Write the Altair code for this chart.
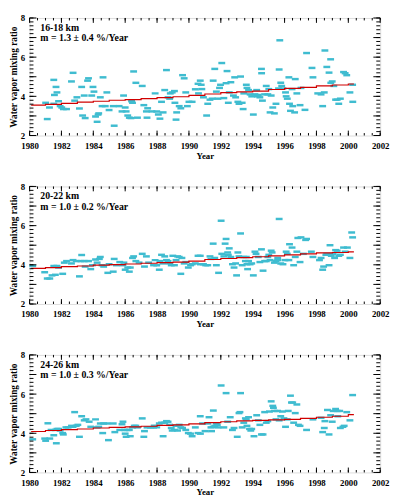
import altair as alt
import pandas as pd

# ---------------- data ----------------
p1_year = [1981.01, 1981.11, 1981.25, 1981.52, 1981.52, 1981.56, 1981.66, 1981.72, 1981.82, 1981.92,
           1982.02, 1982.12, 1982.32, 1982.63, 1982.73, 1982.83, 1982.97, 1983.13, 1983.27, 1983.33,
           1983.43, 1983.49, 1983.64, 1983.70, 1983.90, 1983.98, 1984.04, 1984.14, 1984.24, 1984.30,
           1984.34, 1984.44, 1984.55, 1984.61, 1984.75, 1984.85, 1984.99, 1985.25, 1985.31, 1985.62,
           1985.80, 1985.90, 1986.00, 1986.06, 1986.16, 1986.26, 1986.36, 1986.40, 1986.46, 1986.53,
           1986.67, 1986.77, 1987.07, 1987.17, 1987.33, 1987.37, 1987.41, 1987.68, 1987.88, 1987.98,
           1988.08, 1988.18, 1988.28, 1988.38, 1988.48, 1988.59, 1988.69, 1988.79, 1988.83, 1988.95,
           1989.09, 1989.12, 1989.19, 1989.23, 1989.39, 1989.49, 1989.60, 1989.70, 1989.80, 1989.90,
           1990.00, 1990.20, 1990.40, 1990.57, 1990.60,
           1990.71, 1990.77, 1990.81, 1990.91, 1991.11, 1991.18, 1991.32, 1991.46, 1991.52, 1991.62,
           1991.72, 1991.82, 1991.92, 1991.98, 1992.06, 1992.19, 1992.33, 1992.39, 1992.47, 1992.53,
           1992.63, 1992.79, 1992.87, 1992.93, 1993.07, 1993.14, 1993.24, 1993.34, 1993.40, 1993.44,
           1993.60, 1993.64, 1993.74, 1993.84, 1993.94, 1994.04, 1994.14, 1994.25, 1994.29, 1994.35,
           1994.45, 1994.55, 1994.56, 1994.61, 1994.75, 1994.85, 1994.95, 1995.01, 1995.09, 1995.16,
           1995.26, 1995.36, 1995.46, 1995.62, 1995.66, 1995.70, 1995.76, 1995.82, 1995.90, 1996.06,
           1996.10, 1996.17, 1996.27, 1996.31, 1996.37, 1996.47, 1996.51, 1996.63, 1996.67, 1996.77,
           1996.97, 1997.03, 1997.28, 1997.38, 1997.72, 1997.78, 1998.08, 1998.29, 1998.39, 1998.49,
           1998.53, 1998.65, 1998.79, 1998.89, 1998.90, 1998.99, 1999.09, 1999.20, 1999.30, 1999.40,
           1999.50, 1999.70, 1999.80, 1999.90, 2000.10, 2000.27, 2000.28]
p1_val = [3.67, 2.84, 3.43, 4.84, 3.62, 4.07, 4.48, 4.20, 3.75, 3.50,
          3.43, 3.35, 3.35, 4.76, 5.20, 3.78, 3.95, 3.38, 4.48, 3.02,
          4.04, 2.89, 4.80, 4.92, 4.04, 4.48, 4.24, 2.97, 2.70, 3.07,
          3.13, 3.95, 3.50, 4.97, 3.50, 4.20, 3.30, 3.50, 2.50, 3.50,
          3.23, 4.04, 3.43, 3.23, 3.02, 2.91, 2.89, 3.75, 3.67, 5.27,
          4.69, 2.91, 4.53, 3.55, 3.23, 2.91, 3.39, 3.23, 4.15, 3.23,
          3.07, 2.86, 3.72, 3.18, 4.32, 5.34, 3.95, 3.88, 4.15, 4.20,
          4.27, 3.67, 2.81, 3.18, 3.50, 3.39, 5.08, 4.92, 4.20, 3.50,
          3.72, 3.72, 4.36, 4.64, 4.15,
          4.80, 4.59, 4.37, 3.95, 3.02, 3.62, 3.83, 3.88, 4.80, 5.40,
          4.24, 3.88, 4.43, 4.59, 5.70, 3.91, 4.67, 5.29, 3.67, 4.20,
          4.72, 4.04, 4.97, 3.95, 3.72, 3.62, 5.01, 3.67, 3.35, 4.15,
          4.59, 4.43, 4.32, 4.10, 4.00, 3.07, 4.10, 4.32, 4.00, 4.07,
          3.95, 5.40, 5.18, 3.78, 4.10, 4.53, 4.10, 4.37, 3.18, 4.04,
          3.43, 3.13, 3.62, 4.40, 5.37, 6.86, 4.69, 4.53, 4.40, 4.20,
          4.00, 3.88, 4.97, 3.62, 3.26, 4.37, 3.50, 3.18, 4.88, 4.15,
          3.55, 4.43, 3.31, 6.21, 5.45, 4.97, 4.15, 4.10, 3.50, 4.20,
          6.34, 5.50, 5.21, 5.89, 4.69, 4.76, 4.53, 3.83, 3.83, 3.62,
          3.88, 5.24, 5.18, 5.08, 4.20, 4.59, 3.72]

p2_year = [1980.20, 1980.95, 1981.11, 1981.27, 1981.41, 1981.52, 1981.62, 1981.72, 1981.82, 1982.08,
           1982.18, 1982.32, 1982.63, 1982.73, 1982.93, 1983.13, 1983.23, 1983.27, 1983.43, 1983.49,
           1983.70, 1983.84, 1983.94, 1984.14, 1984.24, 1984.38, 1984.44, 1984.55, 1984.65, 1984.91,
           1984.99, 1985.25, 1985.31, 1985.45, 1985.66, 1985.86, 1985.92, 1986.00, 1986.16, 1986.26,
           1986.32, 1986.46, 1986.53, 1986.67, 1986.87, 1987.07, 1987.21, 1987.33, 1987.47, 1987.78,
           1987.88, 1987.98, 1988.14, 1988.18, 1988.28, 1988.38, 1988.48, 1988.59, 1988.69, 1988.79,
           1988.89, 1988.99, 1989.09, 1989.19, 1989.29, 1989.39, 1989.49, 1989.56, 1989.70, 1989.80,
           1989.96, 1990.10, 1990.20, 1990.40, 1990.57,
           1990.71, 1990.72, 1990.91, 1991.05, 1991.18, 1991.32, 1991.38, 1991.52, 1991.62, 1991.72,
           1991.86, 1992.02, 1992.06, 1992.19, 1992.27, 1992.33, 1992.43, 1992.47, 1992.53, 1992.63,
           1992.73, 1992.83, 1992.93, 1992.99, 1993.07, 1993.14, 1993.24, 1993.34, 1993.44, 1993.54,
           1993.60, 1993.64, 1993.68, 1993.74, 1993.84, 1993.94, 1994.04, 1994.14, 1994.21, 1994.35,
           1994.45, 1994.55, 1994.65, 1994.75, 1994.85, 1994.95, 1995.01, 1995.09, 1995.16, 1995.22,
           1995.36, 1995.46, 1995.56, 1995.57, 1995.66, 1995.76, 1995.90, 1996.02, 1996.10, 1996.17,
           1996.27, 1996.31, 1996.47, 1996.57, 1996.67, 1996.77, 1996.83, 1996.97, 1997.03, 1997.18,
           1997.32, 1997.38, 1997.68, 1997.78, 1998.19, 1998.29, 1998.39, 1998.45, 1998.59, 1998.65,
           1998.79, 1998.85, 1998.93, 1999.05, 1999.14, 1999.20, 1999.30, 1999.40, 1999.50, 1999.70,
           1999.80, 1999.94, 2000.10, 2000.21, 2000.27]
p2_val = [3.94, 3.62, 3.30, 3.30, 3.46, 3.94, 3.49, 3.94, 3.86, 3.54,
          4.11, 4.19, 4.07, 4.24, 4.19, 3.41, 4.19, 4.50, 4.19, 3.91,
          4.19, 3.78, 3.98, 4.27, 4.11, 4.30, 4.40, 3.98, 3.91, 3.59,
          4.03, 3.65, 4.30, 3.98, 4.14, 3.98, 4.11, 3.75, 3.86, 3.65,
          3.86, 4.35, 4.43, 4.19, 4.11, 4.56, 3.91, 4.43, 4.11, 3.98,
          4.24, 3.98, 3.75, 4.19, 4.51, 4.07, 4.43, 4.24, 4.19, 4.07,
          3.98, 4.46, 3.98, 4.24, 4.43, 4.40, 3.54, 4.35, 4.07, 4.14,
          3.86, 3.98, 4.03, 4.07, 4.46,
          4.46, 4.03, 4.03, 3.98, 3.98, 4.43, 4.30, 5.08, 4.35, 3.98,
          3.59, 6.25, 4.56, 4.43, 5.08, 5.32, 4.63, 4.51, 4.84, 4.40,
          4.03, 3.86, 4.07, 3.46, 4.63, 4.43, 5.60, 3.98, 4.40, 4.19,
          4.40, 4.03, 3.78, 4.19, 4.03, 4.07, 3.46, 4.67, 4.56, 4.40,
          4.14, 4.79, 3.70, 4.19, 4.19, 4.40, 4.51, 4.24, 4.72, 4.63,
          4.11, 4.19, 4.24, 4.35, 6.34, 4.07, 4.03, 4.24, 4.67, 4.56,
          4.24, 5.05, 4.88, 3.98, 4.40, 4.67, 5.37, 4.14, 5.40, 4.56,
          5.27, 5.32, 4.67, 4.40, 4.24, 4.35, 3.75, 3.91, 4.51, 4.56,
          3.98, 5.00, 4.46, 4.56, 4.35, 4.75, 4.72, 4.46, 4.51, 4.88,
          4.67, 4.88, 4.35, 5.65, 5.40]

p3_year = [1980.20, 1980.95, 1981.01, 1981.15, 1981.27, 1981.35, 1981.52, 1981.62, 1981.68, 1981.72,
           1981.82, 1981.92, 1982.08, 1982.12, 1982.28, 1982.42, 1982.63, 1982.73, 1982.83, 1982.93,
           1983.03, 1983.13, 1983.27, 1983.43, 1983.54, 1983.74, 1983.84, 1984.14, 1984.24, 1984.34,
           1984.44, 1984.59, 1984.65, 1984.85, 1984.95, 1985.25, 1985.35, 1985.66, 1985.80, 1985.86,
           1985.96, 1986.00, 1986.06, 1986.12, 1986.26, 1986.32, 1986.46, 1986.57, 1986.67, 1986.77,
           1987.07, 1987.17, 1987.21, 1987.37, 1987.58, 1987.78, 1987.82, 1987.98, 1988.14, 1988.28,
           1988.38, 1988.48, 1988.59, 1988.69, 1988.79, 1988.89, 1988.95, 1989.09, 1989.19, 1989.29,
           1989.39, 1989.49, 1989.60, 1989.80, 1989.96, 1990.10, 1990.20, 1990.40, 1990.57,
           1990.71, 1990.72, 1990.85, 1991.01, 1991.18, 1991.26, 1991.38, 1991.42, 1991.52, 1991.53,
           1991.62, 1991.72, 1991.78, 1991.82, 1992.02, 1992.19, 1992.33, 1992.43, 1992.59, 1992.73,
           1992.83, 1993.03, 1993.14, 1993.20, 1993.24, 1993.34, 1993.44, 1993.54, 1993.60, 1993.64,
           1993.74, 1993.80, 1993.88, 1993.94, 1994.08, 1994.25, 1994.35, 1994.45, 1994.55, 1994.65,
           1994.75, 1994.85, 1994.95, 1995.05, 1995.16, 1995.26, 1995.30, 1995.36, 1995.46, 1995.56,
           1995.66, 1995.76, 1995.86, 1995.96, 1996.06, 1996.17, 1996.23, 1996.37, 1996.43, 1996.51,
           1996.57, 1996.67, 1996.77, 1996.87, 1996.97, 1997.38, 1997.78, 1998.29, 1998.39, 1998.49,
           1998.53, 1998.69, 1998.79, 1998.89, 1998.99, 1999.05, 1999.20, 1999.30, 1999.34, 1999.46,
           1999.50, 1999.66, 1999.74, 1999.90, 2000.10, 2000.27]
p3_val = [3.69, 3.73, 3.62, 4.51, 3.73, 4.17, 3.90, 4.17, 3.49, 4.22,
          4.22, 4.14, 4.01, 3.94, 4.30, 4.30, 4.38, 4.33, 5.08, 4.38,
          4.43, 3.82, 4.87, 4.66, 4.71, 4.59, 4.33, 4.71, 4.30, 4.33,
          4.50, 4.01, 4.50, 4.50, 3.65, 4.50, 4.06, 4.17, 4.46, 4.59,
          4.17, 3.98, 3.82, 4.17, 4.17, 3.85, 4.30, 4.38, 4.38, 4.30,
          4.76, 3.82, 4.11, 4.30, 4.30, 4.30, 4.38, 4.30, 4.50, 4.54,
          3.85, 4.54, 4.62, 4.59, 4.43, 4.27, 4.14, 4.17, 4.38, 4.14,
          4.43, 4.30, 4.27, 4.17, 4.01, 3.98, 3.85, 4.30, 4.01,
          4.87, 3.98, 4.50, 4.11, 4.50, 4.82, 4.30, 4.11, 4.33, 5.16,
          4.38, 4.50, 4.43, 4.30, 6.44, 4.30, 6.05, 4.59, 4.82, 4.17,
          4.27, 3.82, 5.03, 5.08, 6.05, 4.30, 4.54, 4.76, 4.71, 4.38,
          4.82, 4.22, 4.14, 4.22, 3.85, 4.92, 4.66, 4.43, 3.94, 3.94,
          5.08, 4.54, 4.62, 5.11, 5.63, 5.40, 5.30, 5.14, 4.71, 5.14,
          4.66, 4.87, 5.11, 4.76, 4.33, 4.71, 5.14, 5.92, 5.57, 5.57,
          4.54, 5.03, 5.47, 4.43, 4.38, 4.17, 4.71, 4.79, 4.06, 4.27,
          4.62, 5.19, 3.94, 4.92, 4.59, 5.14, 5.24, 5.14, 4.87, 5.14,
          4.27, 4.33, 4.38, 5.08, 4.66, 5.95]

# yearly trend (red staircase)
fit_year = [1980.1, 1981, 1982, 1983, 1984, 1985, 1986, 1987, 1988, 1989, 1990,
            1991, 1992, 1993, 1994, 1995, 1996, 1997, 1998, 1999, 2000, 2000.35]
p1_fit = [3.55, 3.59, 3.64, 3.70, 3.75, 3.80, 3.83, 3.88, 3.93, 3.98, 4.05,
          4.12, 4.19, 4.23, 4.27, 4.35, 4.41, 4.46, 4.53, 4.58, 4.63, 4.63]
p2_fit = [3.82, 3.86, 3.91, 3.94, 3.98, 4.01, 4.04, 4.08, 4.11, 4.14, 4.19,
          4.27, 4.32, 4.37, 4.41, 4.46, 4.51, 4.56, 4.61, 4.63, 4.66, 4.66]
p3_fit = [4.09, 4.14, 4.19, 4.22, 4.27, 4.30, 4.33, 4.36, 4.40, 4.43, 4.48,
          4.54, 4.59, 4.63, 4.66, 4.68, 4.71, 4.76, 4.82, 4.87, 4.95, 4.95]

labels_alt = ["16-18 km", "20-22 km", "24-26 km"]
labels_m = ["m = 1.3 \u00b1 0.4 %/Year", "m = 1.0 \u00b1 0.2 %/Year", "m = 1.0 \u00b1 0.3 %/Year"]

x_labels = [1980, 1982, 1984, 1986, 1988, 1990, 1992, 1994, 1996, 1998, 2000, 2002]
x_minor = [1980 + 0.5 * i for i in range(45)]
y_labels = [2, 4, 6, 8]
y_major = [2, 3, 4, 5, 6, 7, 8]
y_minor = [round(2 + 0.2 * i, 1) for i in range(31)]

# ---------------- styling ----------------
W, H = 358, 120
CYAN = "#3fbcd0"
RED = "#d00000"
FONT = "Liberation Serif"

xs = alt.Scale(domain=[1980, 2002], nice=False, zero=False)
ys = alt.Scale(domain=[2, 8], nice=False, zero=False)

x_axis = alt.Axis(values=x_labels, format="d", title="Year", ticks=False, tickSize=0,
                  domain=False, grid=False, labelFont=FONT, labelFontWeight="bold",
                  labelFontSize=9, labelColor="black", labelPadding=6, labelOverlap=False,
                  labelFlush=False, titleFont=FONT, titleFontWeight="bold", titleFontSize=9,
                  titleColor="black", titlePadding=1)
y_axis = alt.Axis(values=y_labels, format="d", title="Water vapor mixing ratio", ticks=False,
                  tickSize=0, domain=False, grid=False, labelFont=FONT, labelFontWeight="bold",
                  labelFontSize=9, labelColor="black", labelPadding=5, labelOverlap=False,
                  labelFlush=False, titleFont=FONT, titleFontWeight="bold", titleFontSize=9.5,
                  titleColor="black", titlePadding=2)


def xticks(vals, side, length):
    df = pd.DataFrame({"year": vals})
    y0 = H if side == "bottom" else 0
    y1 = H - length if side == "bottom" else length
    return alt.Chart(df).mark_rule(color="black", strokeWidth=1).encode(
        x=alt.X("year:Q", scale=xs, axis=x_axis), y=alt.value(y0), y2=alt.value(y1))


def yticks(vals, side, length):
    df = pd.DataFrame({"val": vals})
    x0 = 0 if side == "left" else W
    x1 = length if side == "left" else W - length
    return alt.Chart(df).mark_rule(color="black", strokeWidth=1).encode(
        y=alt.Y("val:Q", scale=ys, axis=y_axis), x=alt.value(x0), x2=alt.value(x1))


def text_layer(txt, ypix):
    return alt.Chart(pd.DataFrame({"t": [txt]})).mark_text(
        align="left", baseline="middle", font=FONT, fontSize=10, fontWeight="bold",
        color="black").encode(x=alt.value(11), y=alt.value(ypix), text="t:N")


def panel(years, vals, fit_vals, lab, slope):
    df = pd.DataFrame({"year": years, "val": vals})
    fit = pd.DataFrame({"year": fit_year, "val": fit_vals})
    pts = alt.Chart(df).mark_tick(orient="horizontal", size=7, thickness=2.5,
                                  color=CYAN, opacity=1).encode(
        x=alt.X("year:Q", scale=xs, axis=x_axis),
        y=alt.Y("val:Q", scale=ys, axis=y_axis))
    line = alt.Chart(fit).mark_line(interpolate="step-after", color=RED,
                                    strokeWidth=1.2).encode(
        x=alt.X("year:Q", scale=xs, axis=x_axis),
        y=alt.Y("val:Q", scale=ys, axis=y_axis))
    layers = [pts, line,
              xticks(x_minor, "bottom", 2.5), xticks(x_labels, "bottom", 5),
              xticks(x_minor, "top", 2.5), xticks(x_labels, "top", 5),
              yticks(y_minor, "left", 4), yticks(y_major, "left", 7),
              yticks(y_minor, "right", 4), yticks(y_major, "right", 7),
              text_layer(lab, 10), text_layer(slope, 21)]
    return alt.layer(*layers).properties(width=W, height=H)


p1 = panel(p1_year, p1_val, p1_fit, labels_alt[0], labels_m[0])
p2 = panel(p2_year, p2_val, p2_fit, labels_alt[1], labels_m[1])
p3 = panel(p3_year, p3_val, p3_fit, labels_alt[2], labels_m[2])

chart = alt.vconcat(p1, p2, p3, spacing=21).properties(
    padding={"left": 0, "top": 0, "right": 0, "bottom": 0}
).configure_view(stroke="black", strokeWidth=1).configure(background="white")

chart.save("out.html", embed_options={"renderer": "svg", "actions": False})
